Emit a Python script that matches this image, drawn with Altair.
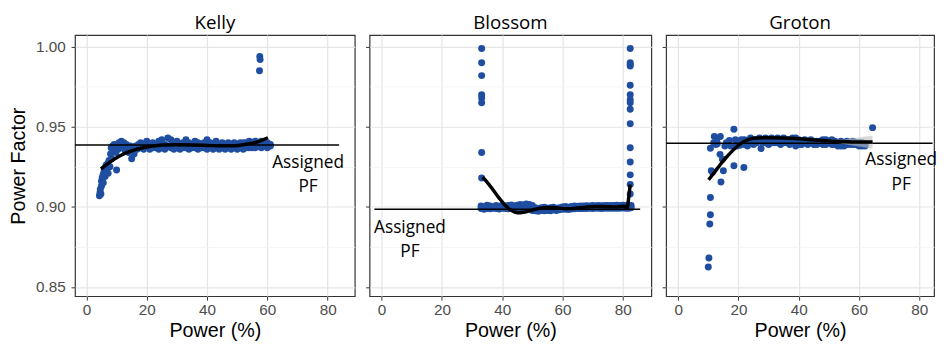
import altair as alt
import pandas as pd

# ---------------- data ----------------
kelly_x = [4.3, 4.5, 4.6, 4.8, 5.0, 5.0, 5.2, 5.5, 5.6, 5.8, 6.0, 6.2, 6.5, 6.7, 7.0, 7.2, 7.5, 7.8,
           8.0, 8.2, 8.4, 8.7, 9.0, 9.2, 9.5, 9.8, 10.0, 10.2, 10.5, 10.8, 11.2, 11.6, 12.0, 12.4,
           12.8, 13.2, 13.6, 14.0, 14.5, 15.0, 15.3, 15.8, 16.3, 16.8, 17.3, 17.8,
           18, 18, 19, 19, 20, 20, 21, 21, 22, 22, 23, 23, 24, 24, 25, 25, 26, 26, 27, 27,
           28, 28, 29, 29, 30, 30, 31, 31, 32, 32, 33, 33, 34, 34, 35, 35, 36, 36, 37, 37,
           38, 38, 39, 39, 40, 40, 41, 41, 42, 42, 43, 43, 44, 44, 45, 45, 46, 46, 47, 47,
           48, 48, 49, 49, 50, 50, 51, 51, 52, 52, 53, 53, 54, 54, 55, 55, 56, 56, 57, 57,
           58, 58, 59, 59, 60, 60, 61, 61, 57.5, 57.6, 57.4]
kelly_y = [0.907, 0.909, 0.911, 0.908, 0.913, 0.916, 0.918, 0.920, 0.915, 0.922, 0.924, 0.919,
           0.926, 0.923, 0.927, 0.921, 0.929, 0.925, 0.933, 0.937, 0.930, 0.938, 0.935, 0.939,
           0.937, 0.934, 0.923, 0.939, 0.936, 0.940, 0.938, 0.941, 0.937, 0.940, 0.935, 0.939,
           0.937, 0.934, 0.938, 0.930, 0.936, 0.933, 0.938, 0.936, 0.939, 0.937,
           0.940, 0.937, 0.939, 0.936, 0.941, 0.938, 0.938, 0.936, 0.940, 0.937, 0.939, 0.937,
           0.941, 0.936, 0.942, 0.938, 0.939, 0.936, 0.943, 0.938, 0.942, 0.937, 0.940, 0.936,
           0.941, 0.938, 0.939, 0.936, 0.940, 0.937, 0.942, 0.937, 0.940, 0.936, 0.939, 0.937,
           0.941, 0.937, 0.940, 0.936, 0.939, 0.937, 0.940, 0.937, 0.942, 0.936, 0.940, 0.937,
           0.939, 0.936, 0.941, 0.937, 0.939, 0.936, 0.940, 0.937, 0.939, 0.936, 0.940, 0.937,
           0.939, 0.936, 0.940, 0.937, 0.939, 0.936, 0.940, 0.937, 0.940, 0.936, 0.940, 0.937,
           0.941, 0.937, 0.940, 0.937, 0.941, 0.937, 0.940, 0.938, 0.941, 0.937, 0.940, 0.938,
           0.940, 0.937, 0.939, 0.938, 0.994, 0.992, 0.985]
kelly_fit_x = [4.8, 6, 8, 10, 12, 14, 16, 18, 20, 23, 26, 30, 35, 40, 45, 48, 51, 54, 57, 60.2]
kelly_fit_y = [0.9237, 0.9255, 0.9283, 0.9307, 0.9327, 0.9343, 0.9356, 0.9366, 0.9374, 0.9382,
               0.9386, 0.9388, 0.9387, 0.9384, 0.9381, 0.9381, 0.9385, 0.9394, 0.9408, 0.9432]

blossom_x = [33.2] * 8 + [82.5] * 15 + [
    33, 33, 34, 34, 35, 35, 36, 36, 37, 37, 38, 38, 39, 39, 40, 40, 41, 41, 42, 42, 43, 43,
    44, 44, 45, 45, 46, 46, 47, 47, 48, 48, 49, 49, 50, 50, 51, 51, 52, 52, 53, 53, 54, 54,
    55, 55, 56, 56, 57, 57, 58, 58, 59, 59, 60, 60, 61, 61, 62, 62, 63, 63, 64, 64, 65, 65,
    66, 66, 67, 67, 68, 68, 69, 69, 70, 70, 71, 71, 72, 72, 73, 73, 74, 74, 75, 75, 76, 76,
    77, 77, 78, 78, 79, 79, 80, 80, 81, 81, 82, 82, 82.8, 82.8]
blossom_y = [0.999, 0.990, 0.982, 0.970, 0.968, 0.965, 0.934, 0.918,
             0.999, 0.990, 0.989, 0.988, 0.976, 0.970, 0.967, 0.965, 0.961, 0.952, 0.937,
             0.928, 0.920, 0.914, 0.908] + [
    0.9005, 0.8990, 0.9000, 0.8985, 0.9010, 0.8990, 0.9005, 0.8988, 0.9000, 0.8992,
    0.9008, 0.8990, 0.9003, 0.8987, 0.9010, 0.8992, 0.9005, 0.8990, 0.9008, 0.8988,
    0.9012, 0.8993, 0.9006, 0.8990, 0.9010, 0.8992, 0.9015, 0.8995, 0.9012, 0.8990,
    0.9018, 0.8995, 0.9015, 0.8992, 0.9008, 0.8978, 0.8995, 0.8975, 0.8990, 0.8972,
    0.8995, 0.8978, 0.8998, 0.8975, 0.8992, 0.8978, 0.8995, 0.8975, 0.8998, 0.8980,
    0.8992, 0.8977, 0.8995, 0.8982, 0.9000, 0.8985, 0.9002, 0.8985, 0.8998, 0.8984,
    0.9003, 0.8987, 0.9005, 0.8988, 0.9004, 0.8990, 0.9006, 0.8989, 0.9005, 0.8990,
    0.9007, 0.8990, 0.9006, 0.8991, 0.9008, 0.8990, 0.9007, 0.8991, 0.9008, 0.8992,
    0.9007, 0.8990, 0.9009, 0.8992, 0.9008, 0.8991, 0.9009, 0.8992, 0.9008, 0.8991,
    0.9010, 0.8992, 0.9009, 0.8991, 0.9010, 0.8993, 0.9009, 0.8992, 0.9010, 0.8992,
    0.9008, 0.8995]
blossom_fit_x = [33.5, 35, 37, 39, 41, 43, 45, 47, 49, 51, 53, 55, 57, 59, 61, 63, 65, 67, 69,
                 71, 73, 75, 77, 79, 80.5, 81.5, 82, 82.5]
blossom_fit_y = [0.9185, 0.9155, 0.9105, 0.9055, 0.9010, 0.8978, 0.8963, 0.8966, 0.8975,
                 0.8985, 0.8993, 0.8996, 0.8996, 0.8992, 0.8988, 0.8989, 0.8993, 0.8997,
                 0.9001, 0.9003, 0.9002, 0.9001, 0.9000, 0.9002, 0.9004, 0.8993, 0.9060, 0.9140]

groton_x = [10.0, 10.2, 10.7, 10.5, 10.7, 11.4, 11.0, 10.7, 12.0, 12.5, 13.0, 13.9, 14.2, 14.7,
            15.0, 14.0, 15.5, 16.0, 16.5, 17.0, 17.5, 18.5, 18.5, 19.0, 19.5, 20.0, 20.5,
            21.0, 21.8, 11.8, 12.8,
            22, 22, 23, 23, 24, 24, 25, 25, 26, 26, 27, 27.5, 28, 28, 29, 29, 30, 30, 31, 31,
            32, 32, 33, 33, 34, 34, 35, 35, 36, 36, 37, 37, 38, 38, 39, 39, 40, 40, 41, 41,
            42, 42, 43, 43, 44, 44, 45, 45, 46, 46, 47, 47, 48, 48, 49, 49, 50, 50, 51, 51,
            52, 52, 53, 53, 54, 54, 55, 55, 56, 56, 57, 57, 58, 58, 59, 59, 60, 60, 61, 61,
            62, 62, 64.5]
groton_y = [0.8625, 0.868, 0.8951, 0.8893, 0.9059, 0.9216, 0.9225, 0.9366, 0.9439, 0.939,
            0.9395, 0.9328, 0.9155, 0.9297, 0.9226, 0.944, 0.938, 0.940, 0.939, 0.9415, 0.938,
            0.9485, 0.9257, 0.942, 0.938, 0.941, 0.9385, 0.942, 0.9246, 0.940, 0.941,
            0.942, 0.939, 0.941, 0.938, 0.943, 0.940, 0.942, 0.939, 0.942, 0.940, 0.943,
            0.9364, 0.942, 0.940, 0.943, 0.940, 0.942, 0.939, 0.943, 0.940, 0.942, 0.940,
            0.943, 0.940, 0.942, 0.939, 0.943, 0.940, 0.942, 0.940, 0.942, 0.939, 0.943,
            0.940, 0.943, 0.938, 0.942, 0.939, 0.941, 0.939, 0.942, 0.940, 0.941, 0.939,
            0.942, 0.940, 0.941, 0.939, 0.941, 0.939, 0.941, 0.940, 0.942, 0.939, 0.942,
            0.939, 0.941, 0.940, 0.942, 0.939, 0.941, 0.939, 0.940, 0.938, 0.941, 0.938,
            0.940, 0.938, 0.941, 0.939, 0.940, 0.939, 0.941, 0.939, 0.940, 0.939, 0.940,
            0.938, 0.940, 0.938, 0.939, 0.938, 0.9495]
groton_fit_x = [10.1, 12, 14, 16, 18, 20, 22, 24, 26, 30, 35, 40, 45, 50, 55, 60, 64.5]
groton_fit_y = [0.9169, 0.9215, 0.9265, 0.9310, 0.9350, 0.9385, 0.9410, 0.9425, 0.9430,
                0.9432, 0.9430, 0.9425, 0.9418, 0.9412, 0.9408, 0.9405, 0.9405]
groton_band_x = [48, 50, 52, 55, 58, 60, 62, 64.5]
groton_band_lo = [0.9408, 0.9404, 0.9400, 0.9393, 0.9384, 0.9377, 0.9371, 0.9365]
groton_band_hi = [0.9420, 0.9420, 0.9420, 0.9423, 0.9428, 0.9433, 0.9439, 0.9445]

assigned_pf = {"Kelly": 0.9386, "Blossom": 0.8985, "Groton": 0.9398}

# ---------------- styling ----------------
BLUE = "#1f4ea1"
LABEL_FONT = "Liberation Sans"
TEXT_FONT = "Open Sans"
Y_DOMAIN = [0.8442, 1.0073]
X_VALUES = [0, 10, 20, 30, 40, 50, 60, 70, 80]
Y_VALUES = [0.85, 0.875, 0.90, 0.925, 0.95, 0.975, 1.0]
X_MAJOR = "datum.value % 20 == 0"
Y_MAJOR = "abs(round(datum.value * 100)) % 5 == 0"
PLOT_H = 265


def x_axis():
    return alt.Axis(
        values=X_VALUES, labelExpr=f"{X_MAJOR} ? datum.label : ''",
        grid=True, domain=False,
        gridColor={"condition": {"test": X_MAJOR, "value": "#e5e5e5"}, "value": "#f3f3f3"},
        gridWidth={"condition": {"test": X_MAJOR, "value": 1.2}, "value": 0.8},
        tickOpacity={"condition": {"test": X_MAJOR, "value": 1}, "value": 0},
        tickColor="#333333", tickSize=4, labelPadding=3,
        labelFont=LABEL_FONT, labelFontSize=15.5, labelColor="#4d4d4d",
        title="Power (%)", titleFont=LABEL_FONT, titleFontSize=20,
        titleFontWeight="normal", titleColor="#000000", titlePadding=2,
    )


def y_axis(show_labels):
    kw = dict(
        values=Y_VALUES, grid=True, domain=False,
        gridColor={"condition": {"test": Y_MAJOR, "value": "#e5e5e5"}, "value": "#f3f3f3"},
        gridWidth={"condition": {"test": Y_MAJOR, "value": 1.2}, "value": 0.8},
        tickOpacity={"condition": {"test": Y_MAJOR, "value": 1}, "value": 0},
        tickColor="#333333", tickSize=4,
    )
    if show_labels:
        kw.update(
            labelExpr=f"{Y_MAJOR} ? format(datum.value, '.2f') : ''",
            labelFont=LABEL_FONT, labelFontSize=15.5, labelColor="#4d4d4d", labelPadding=6,
            title="Power Factor", titleFont=LABEL_FONT, titleFontSize=20,
            titleFontWeight="normal", titleColor="#000000", titlePadding=7,
        )
    else:
        kw.update(labels=False, title=None)
    return alt.Axis(**kw)


def panel(name, xs, ys, fx, fy, width, x_dom, show_y, line_x, text_xy, band=None):
    xs_scale = alt.Scale(domain=x_dom, nice=False, zero=False)
    ys_scale = alt.Scale(domain=Y_DOMAIN, nice=False, zero=False)
    X = alt.X("x:Q", scale=xs_scale, axis=x_axis())
    Y = alt.Y("y:Q", scale=ys_scale, axis=y_axis(show_y))

    pts = alt.Chart(pd.DataFrame({"x": xs, "y": ys})).mark_circle(
        size=50, color=BLUE, opacity=1
    ).encode(x=X, y=Y)

    pf = assigned_pf[name]
    hl = alt.Chart(pd.DataFrame({"x": [line_x[0]], "x2": [line_x[1]], "y": [pf]})).mark_rule(
        color="#000000", strokeWidth=1.5, clip=True
    ).encode(x=alt.X("x:Q", scale=xs_scale), x2="x2:Q", y=alt.Y("y:Q", scale=ys_scale))

    fit = alt.Chart(pd.DataFrame({"x": fx, "y": fy})).mark_line(
        color="#000000", strokeWidth=3.5, interpolate="monotone"
    ).encode(x=alt.X("x:Q", scale=xs_scale), y=alt.Y("y:Q", scale=ys_scale))

    tx, ty = text_xy
    txt = alt.Chart(pd.DataFrame({"x": [tx], "y": [ty]})).mark_text(
        font=TEXT_FONT, fontSize=17.5, color="#000000", align="center", baseline="middle",
        text="Assigned"
    ).encode(x=alt.X("x:Q", scale=xs_scale), y=alt.Y("y:Q", scale=ys_scale))
    txt2 = alt.Chart(pd.DataFrame({"x": [tx], "y": [ty]})).mark_text(
        font=TEXT_FONT, fontSize=17.5, color="#000000", align="center", baseline="middle",
        text="PF", dy=25
    ).encode(x=alt.X("x:Q", scale=xs_scale), y=alt.Y("y:Q", scale=ys_scale))

    layers = [pts, hl]
    if band is not None:
        bx, blo, bhi = band
        layers.append(
            alt.Chart(pd.DataFrame({"x": bx, "lo": blo, "hi": bhi})).mark_area(
                color="#bdbdbd", opacity=0.6, interpolate="monotone"
            ).encode(x=alt.X("x:Q", scale=xs_scale), y=alt.Y("lo:Q", scale=ys_scale), y2="hi:Q")
        )
    layers += [fit, txt, txt2]
    return alt.layer(*layers).properties(
        width=width, height=PLOT_H,
        title=alt.TitleParams(name, font=TEXT_FONT, fontSize=19, fontWeight="normal",
                              color="#000000", anchor="middle", offset=2),
    )


p1 = panel("Kelly", kelly_x, kelly_y, kelly_fit_x, kelly_fit_y, 284, [-3.8, 89.0], True,
           (-3.8, 83.8), (73.5, 0.9275))
p2 = panel("Blossom", blossom_x, blossom_y, blossom_fit_x, blossom_fit_y, 286, [-4.0, 89.5],
           False, (-2.4, 85.8), (9.4, 0.8870))
p3 = panel("Groton", groton_x, groton_y, groton_fit_x, groton_fit_y, 272, [-4.0, 84.9], False,
           (-4.0, 84.4), (74.0, 0.929),
           band=(groton_band_x, groton_band_lo, groton_band_hi))

chart = alt.hconcat(p1, p2, p3, spacing=8).properties(
    padding={"left": 0, "top": 3, "right": 0, "bottom": 0}
).configure_view(stroke="#333333", strokeWidth=1.2)

chart.save("out.html", embed_options={"renderer": "svg", "actions": False})
